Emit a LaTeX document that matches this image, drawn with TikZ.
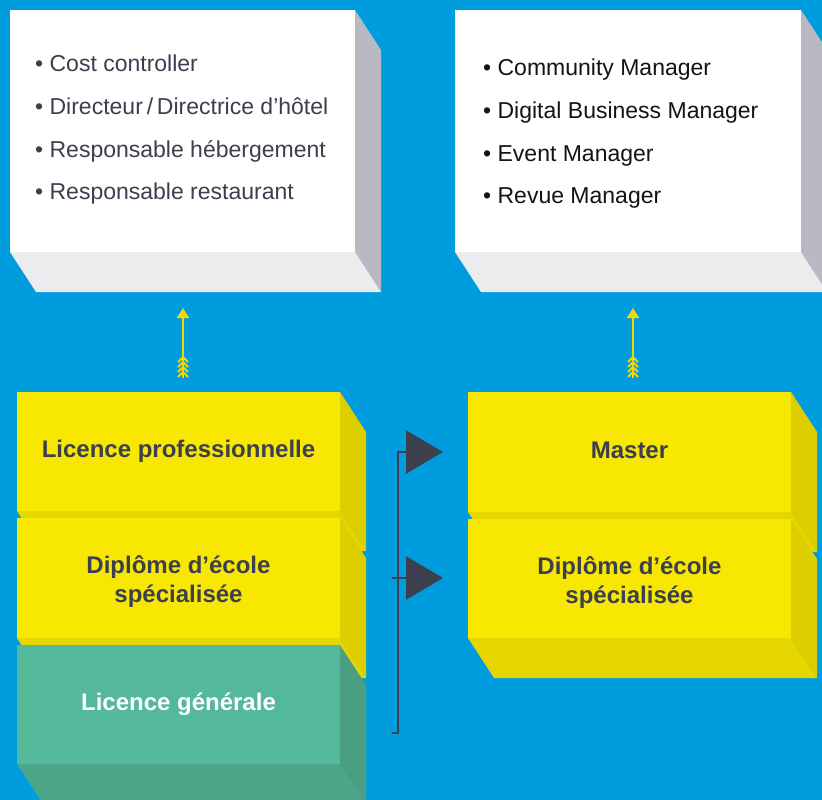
\documentclass[tikz,border=0pt]{standalone}
\usepackage{fontspec}
\setmainfont{Liberation Sans}
\usetikzlibrary{arrows.meta,calc}
\definecolor{bgblue}{RGB}{0,157,222}
\definecolor{wside}{RGB}{184,185,194}
\definecolor{wbot}{RGB}{236,236,238}
\definecolor{yfront}{RGB}{248,231,0}
\definecolor{yside}{RGB}{221,206,0}
\definecolor{ybot}{RGB}{229,214,0}
\definecolor{gfront}{RGB}{84,184,154}
\definecolor{gside}{RGB}{75,158,130}
\definecolor{gbot}{RGB}{76,166,138}
\definecolor{txtdark}{RGB}{59,63,78}
\definecolor{txtblack}{RGB}{20,20,20}
\definecolor{arrowyel}{RGB}{245,214,0}
\newcommand\cubefaces[3]{%
  \fill[#2] (#1.north east) -- ($(#1.north east)+(26,40)$) -- ($(#1.south east)+(26,40)$) -- (#1.south east) -- cycle;
  \fill[#3] (#1.south west) -- (#1.south east) -- ($(#1.south east)+(26,40)$) -- ($(#1.south west)+(26,40)$) -- cycle;}
\newcommand\lowerln[1]{\raisebox{-4pt}[\height][\depth]{#1}}
\newcommand\raiseln[1]{\raisebox{2pt}[\height][\depth]{#1}}
\tikzset{
  face/.style={anchor=north west, inner sep=0pt, outer sep=0pt, minimum width=323pt, minimum height=119pt,
    align=center, font=\fontsize{24}{29}\selectfont\bfseries, text=txtdark},
  whiteface/.style={anchor=north west, inner sep=0pt, outer sep=0pt, fill=white, minimum width=345pt, minimum height=242pt},
  listL/.style={anchor=base west, inner sep=0pt, font=\fontsize{23}{28}\selectfont, text=txtdark},
  listR/.style={anchor=base west, inner sep=0pt, font=\fontsize{23}{28}\selectfont, text=txtblack},
  yarrow/.style={draw=arrowyel, line width=2pt, -{Triangle[length=10pt,width=12pt]}},
  ychev/.style={draw=arrowyel, line width=2pt},
  dk/.style={draw=txtdark, line width=2.6pt, -{Triangle[length=37pt,width=43pt]}}
}
\begin{document}
\begin{tikzpicture}[x=1pt,y=-1pt]
\useasboundingbox (0,0) rectangle (822,800);
\clip (0,0) rectangle (822,800);
\fill[bgblue] (0,0) rectangle (822,800);

% top white boxes
\node[whiteface] (jobsL) at (10,10) {};
\cubefaces{jobsL}{wside}{wbot}
\node[whiteface, minimum width=346pt] (jobsR) at (455,10) {};
\cubefaces{jobsR}{wside}{wbot}

\node[listL] (c1) at (35,72) {• Cost controller};
\node[listL] (c2) at (35,114.5) {• Directeur\,/\,Directrice d’hôtel};
\node[listL] (c3) at (35,157) {• Responsable hébergement};
\node[listL] (c4) at (35,199.5) {• Responsable restaurant};

\node[listR] (m1) at (483,76) {• Community Manager};
\node[listR] (m2) at (483,118.5) {• Digital Business Manager};
\node[listR] (m3) at (483,161) {• Event Manager};
\node[listR] (m4) at (483,203.5) {• Revue Manager};

% left stack
\node[face, fill=yfront] (lp) at (17,392) {Licence professionnelle};
\cubefaces{lp}{yside}{ybot}
\node[face, fill=yfront, minimum height=120pt] (deL) at (17,518) {\lowerln{Diplôme d’école}\\\lowerln{spécialisée}};
\cubefaces{deL}{yside}{ybot}
\node[face, fill=gfront, text=white] (lg) at (17,645) {Licence générale};
\cubefaces{lg}{gside}{gbot}

% right stack
\node[face, fill=yfront, minimum height=120pt] (ms) at (468,392) {\raiseln{Master}};
\cubefaces{ms}{yside}{ybot}
\node[face, fill=yfront] (deR) at (468,519) {\lowerln{Diplôme d’école}\\\lowerln{spécialisée}};
\cubefaces{deR}{yside}{ybot}

% yellow arrows
\coordinate (aL0) at (183,378);
\coordinate (aL1) at (183,308);
\coordinate (aR0) at (633,378);
\coordinate (aR1) at (633,308);
\draw[yarrow] (aL0) -- (aL1);
\draw[yarrow] (aR0) -- (aR1);
\foreach \k in {0,...,3}{
  \draw[ychev] ($(aL0)+(-5,-1-5*\k)$) -- ++(5,-5) -- ++(5,5);
  \draw[ychev] ($(aR0)+(-5,-1-5*\k)$) -- ++(5,-5) -- ++(5,5);
}

% bracket connector
\coordinate (bEnd) at (392,733);
\coordinate (bCorner) at (398,733);
\coordinate (bTop) at (398,452);
\coordinate (tipA) at (443,452);
\coordinate (tick) at (392,578);
\coordinate (tipB) at (443,578);
\draw[dk] (bEnd) -- (bCorner) -- (bTop) -- (tipA);
\draw[dk] (tick) -- (tipB);
\end{tikzpicture}
\end{document}
